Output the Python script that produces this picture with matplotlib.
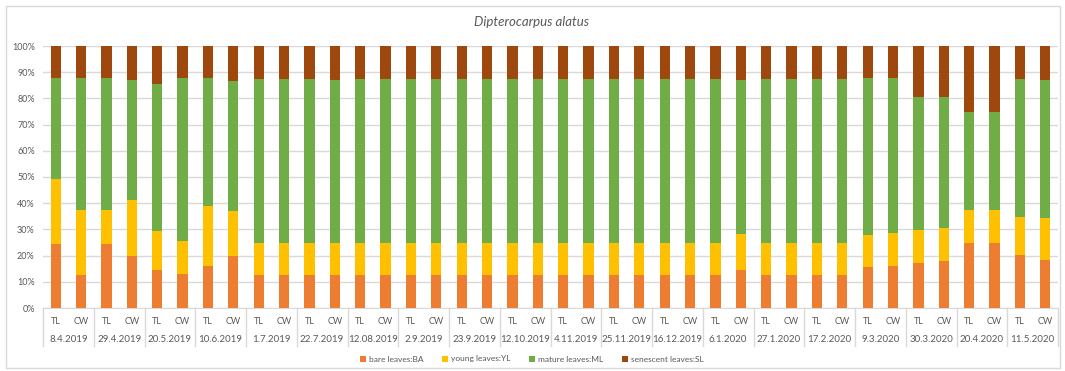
import numpy as np
import matplotlib
matplotlib.use("Agg")
import matplotlib.pyplot as plt
from matplotlib.transforms import blended_transform_factory
from matplotlib.patches import Rectangle
from matplotlib.lines import Line2D
from matplotlib.ticker import FuncFormatter

plt.rcParams['font.family'] = ['Lato', 'DejaVu Sans']

dates = ["8.4.2019", "29.4.2019", "20.5.2019", "10.6.2019", "1.7.2019",
         "22.7.2019", "12.08.2019", "2.9.2019", "23.9.2019", "12.10.2019",
         "4.11.2019", "25.11.2019", "16.12.2019", "6.1.2020", "27.1.2020",
         "17.2.2020", "9.3.2020", "30.3.2020", "20.4.2020", "11.5.2020"]
sites = ["TL", "CW"]

# leaf phase shares (%), one value per bar: TL, CW for each date
bare = [24.6, 12.5, 24.5, 19.7, 14.4, 13.1, 15.9, 19.7, 12.5, 12.5,
        12.5, 12.5, 12.5, 12.5, 12.5, 12.5, 12.5, 12.5, 12.5, 12.5,
        12.5, 12.5, 12.5, 12.5, 12.5, 12.5, 12.5, 14.5, 12.5, 12.5,
        12.5, 12.5, 15.7, 16.1, 17.1, 18.1, 25.0, 25.0, 20.3, 18.5]
young = [24.8, 25.0, 12.8, 21.4, 14.8, 12.6, 23.1, 17.2, 12.5, 12.5,
         12.5, 12.5, 12.5, 12.5, 12.5, 12.5, 12.5, 12.5, 12.5, 12.5,
         12.5, 12.5, 12.5, 12.5, 12.5, 12.5, 12.5, 13.8, 12.5, 12.5,
         12.5, 12.5, 12.3, 12.6, 12.5, 12.5, 12.5, 12.5, 14.5, 16.0]
mature = [38.2, 50.1, 50.3, 46.0, 56.2, 61.9, 48.6, 49.7, 62.5, 62.5,
          62.5, 61.9, 62.5, 62.5, 62.5, 62.5, 62.5, 62.5, 62.5, 62.5,
          62.5, 62.5, 62.5, 62.5, 62.5, 62.5, 62.5, 58.8, 62.5, 62.5,
          62.5, 62.5, 59.6, 58.9, 51.0, 49.8, 37.5, 37.5, 52.5, 52.4]
senescent = [12.4, 12.4, 12.4, 12.9, 14.6, 12.4, 12.4, 13.4, 12.5, 12.5,
             12.5, 13.1, 12.5, 12.5, 12.5, 12.5, 12.5, 12.5, 12.5, 12.5,
             12.5, 12.5, 12.5, 12.5, 12.5, 12.5, 12.5, 12.9, 12.5, 12.5,
             12.5, 12.5, 12.4, 12.4, 19.4, 19.6, 25.0, 25.0, 12.7, 13.1]

series = [("bare leaves:BA", bare, "#ED7D31"),
          ("young leaves:YL", young, "#FFC000"),
          ("mature leaves:ML", mature, "#70AD47"),
          ("senescent leaves:SL", senescent, "#9E480E")]

W, H = 1065, 371
txt = "#595959"
grid = "#D9D9D9"

fig = plt.figure(figsize=(W / 100, H / 100), dpi=100)
fig.patches.append(Rectangle((6 / W, 3 / H), 1054 / W, 362 / H, transform=fig.transFigure,
                             fill=False, edgecolor=grid, lw=1))

ax_bottom, ax_top = 308, 46
ax = fig.add_axes([43 / W, 1 - ax_bottom / H, 1015 / W, (ax_bottom - ax_top) / H])

# normalise each bar to 100 %
totals = np.sum([np.array(s[1]) for s in series], axis=0)
x = np.arange(len(totals))
base = np.zeros(len(totals))
for name, vals, col in series:
    pct = np.array(vals) / totals * 100
    ax.bar(x, pct, width=0.4, bottom=base, color=col, label=name, zorder=3)
    base += pct

ax.set_xlim(-0.5, len(x) - 0.5)
ax.set_ylim(0, 100)
ax.set_yticks(np.arange(0, 101, 10))
ax.yaxis.set_major_formatter(FuncFormatter(lambda v, p: f"{int(v)}%"))
ax.tick_params(axis='y', length=0, labelsize=6.5, labelcolor=txt, pad=6)
ax.set_xticks([])
ax.grid(axis='y', color=grid, lw=1, zorder=0)
for s in ["top", "right", "left"]:
    ax.spines[s].set_visible(False)
ax.spines["bottom"].set_color(grid)

# two-level category axis
tr = blended_transform_factory(ax.transData, fig.transFigure)
for i, d in enumerate(dates):
    for j, s in enumerate(sites):
        ax.text(2 * i + j, 1 - 321 / H, s, transform=tr, ha='center', va='center',
                fontsize=6.5, color=txt)
    ax.text(2 * i + 0.5, 1 - 339 / H, d, transform=tr, ha='center', va='center',
            fontsize=7, color=txt)
for k in range(len(dates) + 1):
    xs = 2 * k - 0.5
    fig.add_artist(Line2D([xs, xs], [1 - ax_bottom / H, 1 - 346 / H], transform=tr,
                          color=grid, lw=1))

fig.text(532 / W, 1 - 22 / H, "Dipterocarpus alatus", ha='center', va='center',
         fontsize=9.5, style='italic', color=txt)

fig.legend(loc='center', bbox_to_anchor=(532 / W, 1 - 359 / H), ncol=4, frameon=False,
           fontsize=6, labelcolor=txt, handlelength=0.7, handleheight=0.7,
           handletextpad=0.4, columnspacing=2.2)

fig.savefig("out.png", dpi=100)
